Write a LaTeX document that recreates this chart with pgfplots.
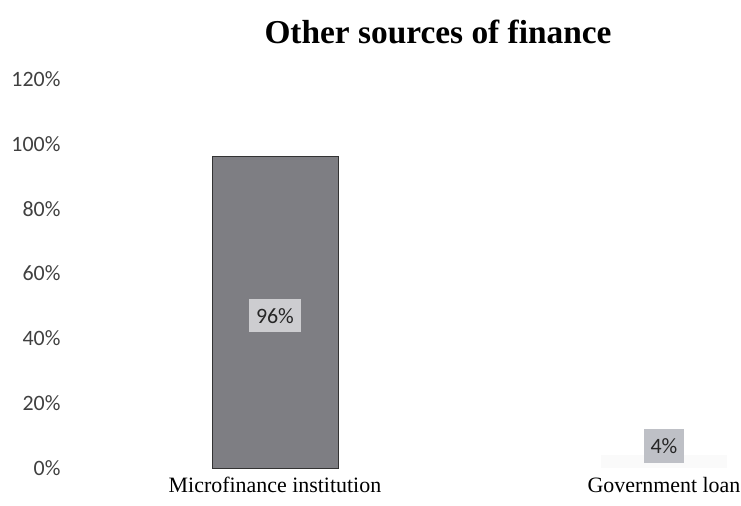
\documentclass[border=0pt]{standalone}
\usepackage{pgfplots}
\pgfplotsset{compat=1.18}
\usepackage{fontspec}
\setmainfont{Liberation Serif}
\newfontfamily\carlito{Carlito}
\definecolor{barfill}{RGB}{126,126,131}
\definecolor{lblfill}{RGB}{205,205,208}
\definecolor{lblfillb}{RGB}{190,192,198}
\begin{document}
\begin{tikzpicture}[x=1bp,y=1bp]
\path[use as bounding box] (0,0) rectangle (741,506);
\begin{axis}[
  at={(75bp,38bp)}, anchor=south west,
  scale only axis,
  width=666bp, height=389bp,
  xmin=-0.514, xmax=1.198,
  ymin=0, ymax=120,
  ytick={0,20,40,60,80,100,120},
  yticklabels={0\%,20\%,40\%,60\%,80\%,100\%,120\%},
  xtick={0,1},
  xticklabels={Microfinance institution,Government loan},
  axis line style={draw=none},
  tick style={draw=none},
  yticklabel style={font=\carlito\fontsize{22}{26}\selectfont, text=black!75, xshift=-11bp},
  xticklabel style={font=\fontsize{22}{26}\selectfont, yshift=-6bp},
  clip=false,
]
\addplot[ybar, bar width=126bp, fill=barfill, draw=black!80, line width=0.6pt]
  coordinates {(0,96)};
\addplot[ybar, bar width=126bp, fill=black!2, draw=none]
  coordinates {(1,4)};
\node[fill=lblfill, text=black!85, font=\carlito\fontsize{22}{26}\selectfont, inner xsep=7bp, inner ysep=9bp] at (axis cs:0,47) {96\%};
\node[fill=lblfillb, text=black!85, font=\carlito\fontsize{22}{26}\selectfont, inner xsep=7bp, inner ysep=9bp] at (axis cs:1,6.8) {4\%};
\end{axis}
\node[font=\bfseries\fontsize{33.5}{38}\selectfont] at (438,474) {Other sources of finance};
\end{tikzpicture}
\end{document}
